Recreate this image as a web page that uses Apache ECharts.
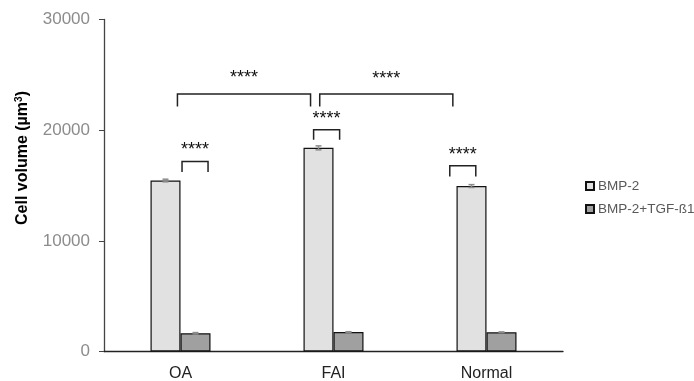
<!DOCTYPE html>
<html>
<head>
<meta charset="utf-8">
<script src="https://cdn.jsdelivr.net/npm/echarts@6/dist/echarts.min.js"></script>
<style>
  html, body { margin: 0; padding: 0; background: #fff; }
  #chart { width: 694px; height: 381px; }
</style>
</head>
<body>
<div id="chart"></div>
<script>
const categories = ['OA', 'FAI', 'Normal']
const seriesNames = ['BMP-2', 'BMP-2+TGF-ß1']
const bmp2 = [15450, 18400, 14950]
const bmp2Err = [120, 180, 130]
const bmp2Tgf = [1650, 1760, 1740]
const bmp2TgfErr = [60, 30, 30]
const yTicks = [0, 10000, 20000, 30000]
// significance brackets: [xFrom, xTo, yTop, yBottom, labelY], x in category units
const brackets = [
  [-0.02, 0.85, 23260, 22140, 24700],
  [0.91, 1.78, 23260, 22140, 24620],
  [0.01, 0.18, 17170, 16230, 18230],
  [0.87, 1.04, 20030, 19130, 21030],
  [1.76, 1.93, 16780, 15810, 17780]
]
const sigLabel = '****'

const font = '"Liberation Sans", Arial, sans-serif'
const barWidth = 30

const chart = echarts.init(document.getElementById('chart'))

// error bar drawn at bar centre, shifted left/right by half a bar
const errorRender = (shift) => (params, api) => {
  const x = api.value(0)
  const v = api.value(1)
  const e = api.value(2)
  const hi = api.coord([x, v + e])
  const lo = api.coord([x, v - e])
  const cx = hi[0] + shift
  const cap = 3
  const style = { stroke: '#8c8c8c', lineWidth: 1.5 }
  return {
    type: 'group',
    children: [
      { type: 'line', shape: { x1: cx, y1: hi[1], x2: cx, y2: lo[1] }, style },
      { type: 'line', shape: { x1: cx - cap, y1: hi[1], x2: cx + cap, y2: hi[1] }, style },
      { type: 'line', shape: { x1: cx - cap, y1: lo[1], x2: cx + cap, y2: lo[1] }, style }
    ]
  }
}

const option = {
  animation: false,
  textStyle: { fontFamily: font },
  grid: { left: 104, right: 131, top: 19.5, bottom: 29.5, containLabel: false, outerBoundsMode: 'none' },
  legend: {
    orient: 'vertical',
    left: 580,
    top: 174,
    itemWidth: 8,
    itemHeight: 8,
    itemGap: 9,
    icon: 'rect',
    textStyle: { fontSize: 13.5, color: '#595959', fontFamily: font, padding: [0, 0, 0, -1] },
    data: seriesNames
  },
  xAxis: [
    {
      type: 'category',
      data: categories,
      axisLine: { lineStyle: { color: '#222', width: 1.3 } },
      axisTick: { show: false },
      axisLabel: { fontSize: 16, color: '#222', margin: 14 }
    },
    {
      type: 'value',
      min: -0.5,
      max: 2.5,
      show: false
    }
  ],
  yAxis: {
    type: 'value',
    min: yTicks[0],
    max: yTicks[yTicks.length - 1],
    interval: yTicks[1] - yTicks[0],
    name: '{a|Cell volume (µm}{s|3}{a|)}',
    nameLocation: 'middle',
    nameGap: 72,
    nameTextStyle: {
      padding: [0, 0, 0, 55],
      rich: {
        a: { fontSize: 16, fontWeight: 'bold', color: '#000', fontFamily: font },
        s: { fontSize: 10, fontWeight: 'bold', color: '#000', fontFamily: font, verticalAlign: 'top', padding: [0, 0, 8, 0] }
      }
    },
    axisLine: { show: true, onZero: false, lineStyle: { color: '#444', width: 1.3 } },
    axisTick: { show: true, length: 5, lineStyle: { color: '#444' } },
    axisLabel: { fontSize: 17, color: '#8c8c8c', margin: 14, formatter: (v) => String(v) },
    splitLine: { show: false }
  },
  series: [
    {
      name: seriesNames[0],
      type: 'bar',
      data: bmp2,
      barWidth: barWidth,
      barGap: '0%',
      itemStyle: { color: '#e1e1e1', borderColor: '#111', borderWidth: 1.2 }
    },
    {
      name: seriesNames[1],
      type: 'bar',
      data: bmp2Tgf,
      barWidth: barWidth,
      barGap: '0%',
      itemStyle: { color: '#a0a0a0', borderColor: '#111', borderWidth: 1.2 }
    },
    {
      type: 'custom',
      silent: true,
      renderItem: errorRender(-barWidth / 2),
      data: bmp2.map((v, i) => [i, v, bmp2Err[i]]),
      z: 5
    },
    {
      type: 'custom',
      silent: true,
      renderItem: errorRender(barWidth / 2),
      data: bmp2Tgf.map((v, i) => [i, v, bmp2TgfErr[i]]),
      z: 5
    },
    {
      type: 'custom',
      silent: true,
      xAxisIndex: 1,
      renderItem: (params, api) => {
        const x0 = api.value(0)
        const x1 = api.value(1)
        const top = api.value(2)
        const bot = api.value(3)
        const pts = [
          api.coord([x0, bot]),
          api.coord([x0, top]),
          api.coord([x1, top]),
          api.coord([x1, bot])
        ]
        const lp = api.coord([(x0 + x1) / 2, api.value(4)])
        return {
          type: 'group',
          children: [
            { type: 'polyline', shape: { points: pts }, style: { stroke: '#222', lineWidth: 1.5, fill: null } },
            {
              type: 'text',
              x: lp[0],
              y: lp[1],
              style: { text: sigLabel, align: 'center', verticalAlign: 'middle', fontSize: 18, fill: '#111', fontFamily: font }
            }
          ]
        }
      },
      data: brackets,
      z: 6
    }
  ]
}

chart.setOption(option)
</script>
</body>
</html>
